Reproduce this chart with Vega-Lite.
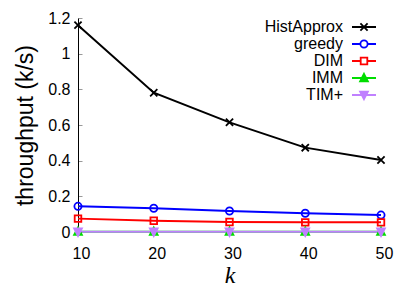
{
  "$schema": "https://vega.github.io/schema/vega-lite/v6.json",
  "width": 303,
  "height": 214,
  "autosize": {"type": "none"},
  "padding": {"left": 78, "top": 18, "right": 34, "bottom": 59},
  "background": "white",
  "config": {
    "view": {"stroke": null},
    "font": "Liberation Sans",
    "axis": {"labelFont": "Liberation Sans", "labelFontSize": 16, "labelColor": "black", "grid": false}
  },
  "data": {
    "values": [
      {"k": 10, "s": "HistApprox", "v": 1.16},
      {"k": 20, "s": "HistApprox", "v": 0.781},
      {"k": 30, "s": "HistApprox", "v": 0.615},
      {"k": 40, "s": "HistApprox", "v": 0.473},
      {"k": 50, "s": "HistApprox", "v": 0.404},
      {"k": 10, "s": "greedy", "v": 0.144},
      {"k": 20, "s": "greedy", "v": 0.133},
      {"k": 30, "s": "greedy", "v": 0.118},
      {"k": 40, "s": "greedy", "v": 0.105},
      {"k": 50, "s": "greedy", "v": 0.095},
      {"k": 10, "s": "DIM", "v": 0.075},
      {"k": 20, "s": "DIM", "v": 0.063},
      {"k": 30, "s": "DIM", "v": 0.056},
      {"k": 40, "s": "DIM", "v": 0.054},
      {"k": 50, "s": "DIM", "v": 0.054},
      {"k": 10, "s": "IMM", "v": 0.002},
      {"k": 20, "s": "IMM", "v": 0.002},
      {"k": 30, "s": "IMM", "v": 0.002},
      {"k": 40, "s": "IMM", "v": 0.002},
      {"k": 50, "s": "IMM", "v": 0.002},
      {"k": 10, "s": "TIM+", "v": 0.001},
      {"k": 20, "s": "TIM+", "v": 0.001},
      {"k": 30, "s": "TIM+", "v": 0.001},
      {"k": 40, "s": "TIM+", "v": 0.001},
      {"k": 50, "s": "TIM+", "v": 0.001}
    ]
  },
  "encoding": {
    "x": {
      "field": "k", "type": "quantitative",
      "scale": {"domain": [10, 50], "nice": false, "zero": false},
      "axis": {
        "values": [10, 20, 30, 40, 50], "title": "k",
        "titleFont": "Liberation Serif", "titleFontStyle": "italic", "titleFontWeight": "normal",
        "titleFontSize": 24, "titleColor": "black", "titlePadding": 2,
        "domain": false, "ticks": false, "labelPadding": 13, "labelOffset": 3, "labelFlush": false
      }
    },
    "y": {
      "field": "v", "type": "quantitative",
      "scale": {"domain": [0, 1.2], "nice": false},
      "axis": {
        "values": [0, 0.2, 0.4, 0.6, 0.8, 1, 1.2], "title": "throughput (k/s)",
        "titleFont": "Liberation Sans", "titleFontWeight": "normal", "titleFontSize": 23,
        "titleColor": "black", "titlePadding": 10,
        "domainColor": "black", "domainWidth": 1,
        "ticks": true, "tickSize": -4, "tickColor": "#999999",
        "labelPadding": 12, "format": "~g", "labelFlush": false
      }
    }
  },
  "layer": [
    {
      "mark": {"type": "line", "strokeWidth": 2},
      "encoding": {
        "color": {
          "field": "s", "type": "nominal", "legend": null,
          "scale": {"domain": ["HistApprox", "greedy", "DIM", "IMM", "TIM+"], "range": ["#000000", "#0000ff", "#ff0000", "#00dd00", "#c080ff"]}
        },
        "order": {"field": "k"}
      }
    },
    {
      "mark": {"type": "point", "filled": false, "strokeWidth": 1.8, "size": 144, "opacity": 1},
      "encoding": {
        "color": {
          "field": "s", "type": "nominal", "legend": null,
          "scale": {"domain": ["HistApprox", "greedy", "DIM", "IMM", "TIM+"], "range": ["#000000", "#0000ff", "#ff0000", "#00dd00", "#c080ff"]}
        },
        "fill": {
          "field": "s", "type": "nominal", "legend": null,
          "scale": {"domain": ["HistApprox", "greedy", "DIM", "IMM", "TIM+"], "range": ["transparent", "transparent", "transparent", "#00dd00", "#c080ff"]}
        },
        "shape": {
          "field": "s", "type": "nominal", "legend": null,
          "scale": {"domain": ["HistApprox", "greedy", "DIM", "IMM", "TIM+"], "range": [
            "M-0.6,-0.6L0.6,0.6M-0.6,0.6L0.6,-0.6",
            "M0.6,0A0.6,0.6 0 1,1 -0.6,0A0.6,0.6 0 1,1 0.6,0Z",
            "M-0.55,-0.55H0.55V0.55H-0.55Z",
            "M0,-0.7L0.65,0.55H-0.65Z",
            "M0,0.7L0.65,-0.55H-0.65Z"
          ]}
        }
      }
    },
    {
      "mark": {"type": "point", "filled": false, "strokeWidth": 1.8, "size": 144, "opacity": 0},
      "encoding": {
        "color": {
          "field": "s", "type": "nominal",
          "scale": {"domain": ["HistApprox", "greedy", "DIM", "IMM", "TIM+"], "range": ["#000000", "#0000ff", "#ff0000", "#00dd00", "#c080ff"]},
          "legend": {
            "title": null, "orient": "top-right", "offset": 1, "padding": 0,
            "symbolSize": 144, "symbolStrokeWidth": 1.8, "symbolOpacity": 1,
            "labelFont": "Liberation Sans", "labelFontSize": 16, "labelColor": "black",
            "labelAlign": "right", "labelOffset": -29, "rowPadding": 1
          }
        },
        "fill": {
          "field": "s", "type": "nominal",
          "scale": {"domain": ["HistApprox", "greedy", "DIM", "IMM", "TIM+"], "range": ["transparent", "transparent", "transparent", "#00dd00", "#c080ff"]}
        },
        "shape": {
          "field": "s", "type": "nominal",
          "scale": {"domain": ["HistApprox", "greedy", "DIM", "IMM", "TIM+"], "range": [
            "M-2,0H2M-0.6,-0.6L0.6,0.6M-0.6,0.6L0.6,-0.6",
            "M-2,0H-0.6M0.6,0H2M0.6,0A0.6,0.6 0 1,1 -0.6,0A0.6,0.6 0 1,1 0.6,0Z",
            "M-2,0H-0.55M0.55,0H2M-0.55,-0.55H0.55V0.55H-0.55Z",
            "M-2,0H2M0,-0.7L0.65,0.55H-0.65Z",
            "M-2,0H2M0,0.7L0.65,-0.55H-0.65Z"
          ]}
        }
      }
    }
  ],
  "resolve": {"scale": {"color": "independent", "fill": "independent", "shape": "independent"}}
}
